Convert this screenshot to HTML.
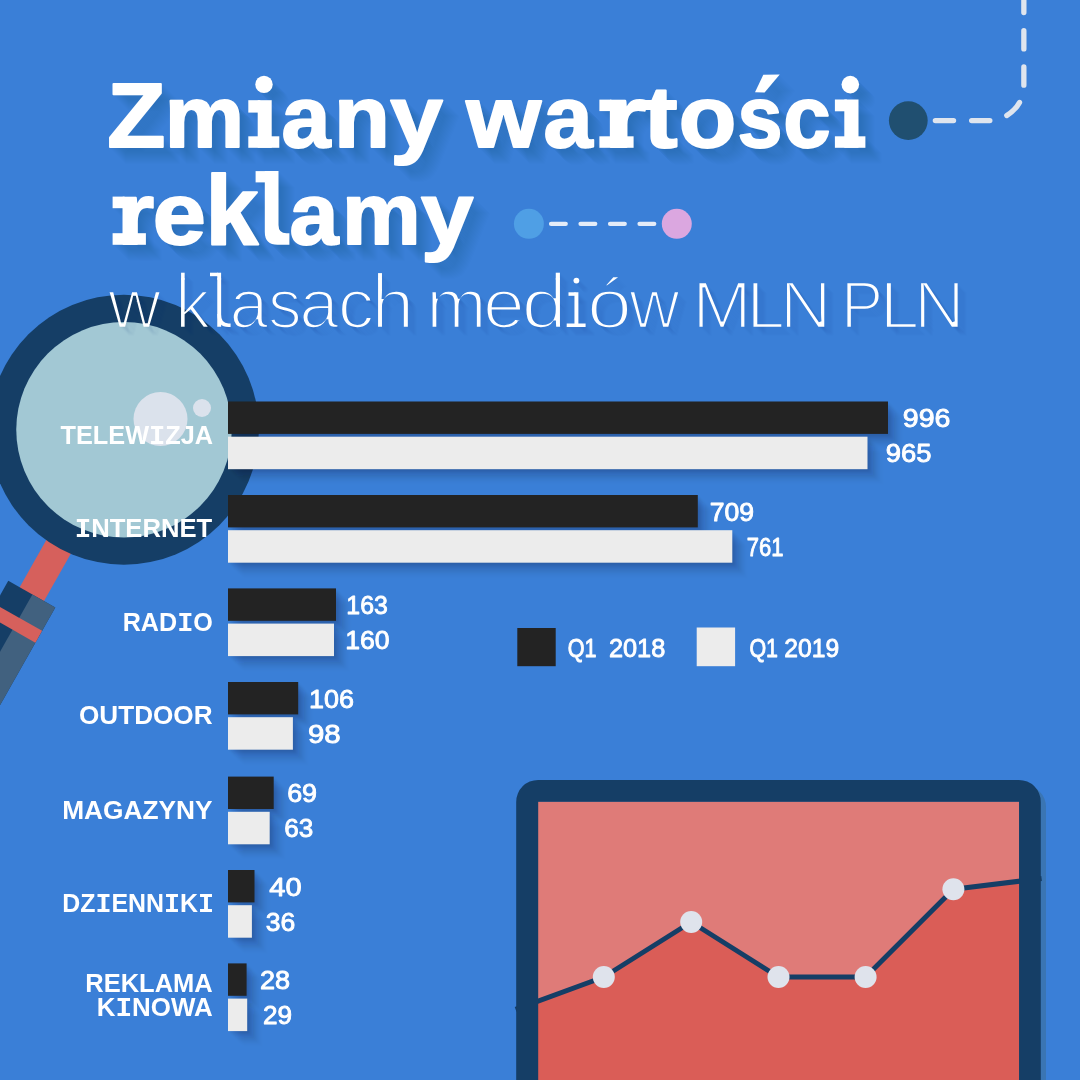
<!DOCTYPE html>
<html lang="pl">
<head>
<meta charset="utf-8">
<title>Zmiany wartości reklamy</title>
<style>
  html, body { margin: 0; padding: 0; width: 1080px; height: 1080px; overflow: hidden; background: #3a7fd7; }
  svg { display: block; font-family: "Liberation Sans", sans-serif; will-change: transform; }
  .lbl { font-weight: bold; font-size: 25.4px; fill: #ffffff; }
  .val { font-size: 26px; fill: #ffffff; stroke: #ffffff; stroke-width: 0.9px; stroke-linejoin: round; }
</style>
</head>
<body>
<svg width="1080" height="1080" viewBox="0 0 1080 1080">
  <defs>
    <filter id="barShadow" x="-10%" y="-30%" width="130%" height="190%">
      <feGaussianBlur in="SourceAlpha" stdDeviation="4"/>
      <feOffset dx="5" dy="7" result="b"/>
      <feComponentTransfer><feFuncA type="linear" slope="0.34"/></feComponentTransfer>
      <feMerge><feMergeNode/><feMergeNode in="SourceGraphic"/></feMerge>
    </filter>
    <filter id="soft" x="-5%" y="-5%" width="110%" height="110%"><feGaussianBlur stdDeviation="1.3"/></filter>
    <g id="barSil">
      <rect x="228" y="401.5" width="660.0" height="32.4"/>
      <rect x="228" y="436.7" width="639.5" height="32.5"/>
      <rect x="228" y="495.0" width="469.8" height="32.4"/>
      <rect x="228" y="530.2" width="504.3" height="32.5"/>
      <rect x="228" y="588.4" width="108.0" height="32.4"/>
      <rect x="228" y="623.6" width="106.0" height="32.5"/>
      <rect x="228" y="682.0" width="70.2" height="32.4"/>
      <rect x="228" y="717.2" width="64.9" height="32.5"/>
      <rect x="228" y="776.6" width="45.7" height="32.4"/>
      <rect x="228" y="811.8" width="41.7" height="32.5"/>
      <rect x="228" y="870.0" width="26.5" height="32.4"/>
      <rect x="228" y="905.2" width="23.9" height="32.5"/>
      <rect x="228" y="963.4" width="18.6" height="32.4"/>
      <rect x="228" y="998.6" width="19.2" height="32.5"/>
    </g>
    <g id="titleText" font-weight="bold" font-size="88" stroke-width="2" stroke-linejoin="round">
      <text x="107.29" y="146.8" textLength="58.13" lengthAdjust="spacingAndGlyphs" font-size="90">Z</text>
      <text x="164.86" y="146.8" textLength="79.42" lengthAdjust="spacingAndGlyphs">m</text>
      <text x="281.5" y="146.8" textLength="48.95" lengthAdjust="spacingAndGlyphs">a</text>
      <text x="334.02" y="146.8" textLength="55.92" lengthAdjust="spacingAndGlyphs">n</text>
      <text x="390.19" y="146.8" textLength="52.59" lengthAdjust="spacingAndGlyphs">y</text>
      <text x="466.17" y="146.8" textLength="74.78" lengthAdjust="spacingAndGlyphs">w</text>
      <text x="543.49" y="146.8" textLength="49.16" lengthAdjust="spacingAndGlyphs">a</text>
      <text x="603.55" y="146.8" textLength="42.61" lengthAdjust="spacingAndGlyphs">r</text>
      <text x="643.64" y="146.8" textLength="34.1" lengthAdjust="spacingAndGlyphs">t</text>
      <text x="678.65" y="146.8" textLength="57.62" lengthAdjust="spacingAndGlyphs">o</text>
      <text x="737.61" y="146.8" textLength="44.99" lengthAdjust="spacingAndGlyphs">s</text>
      <text x="783.21" y="146.8" textLength="47.41" lengthAdjust="spacingAndGlyphs">c</text>
      <text x="116.98" y="243.8" textLength="37.08" lengthAdjust="spacingAndGlyphs">r</text>
      <text x="152.8" y="243.8" textLength="53.1" lengthAdjust="spacingAndGlyphs">e</text>
      <text x="205.57" y="243.8" textLength="52.75" lengthAdjust="spacingAndGlyphs" font-size="98">k</text>
      <text x="289.5" y="243.8" textLength="48.95" lengthAdjust="spacingAndGlyphs">a</text>
      <text x="342.02" y="243.8" textLength="78.72" lengthAdjust="spacingAndGlyphs">m</text>
      <text x="420.9" y="243.8" textLength="52.39" lengthAdjust="spacingAndGlyphs">y</text>
      <g stroke="none">
        <!-- i (Zmiany) -->
        <rect x="257.7" y="100.2" width="14" height="47.6"/>
        <rect x="248.3" y="136.3" width="31" height="11.5"/>
        <rect x="248.3" y="100.2" width="12" height="12.4"/>
        <circle cx="264" cy="84.4" r="8.7"/>
        <!-- i (wartosci) -->
        <rect x="844.3" y="99.5" width="14.2" height="48.3"/>
        <rect x="834.9" y="136.3" width="30.5" height="11.5"/>
        <rect x="834.9" y="99.5" width="12" height="11.8"/>
        <circle cx="850.3" cy="84.6" r="8.8"/>
        <!-- l (reklamy) -->
        <path d="M264.8 171.1 H278.5 V225 Q278.5 233.3 286.5 233.3 H289.4 V244.8 H277.5 Q264.8 244.8 264.8 232 Z"/>
        <rect x="255.6" y="171.1" width="12" height="11.3"/>
        <!-- acute accent of s -->
        <polygon points="763.3,74.8 779.75,74.4 764.6,92.5 755,92.3"/>
        <!-- r slabs -->
        <rect x="112.6" y="233.2" width="33.3" height="11.6"/>
        <rect x="112.6" y="196.6" width="12" height="11.6"/>
        <rect x="599.4" y="136.3" width="34.2" height="11.5"/>
        <rect x="599.4" y="99.6" width="12" height="11.5"/>
      </g>
    </g>
    <mask id="thinMask" maskUnits="userSpaceOnUse" x="0" y="240" width="1080" height="120">
      <g font-size="70" fill="#fff" stroke="#000" stroke-width="2.6">
        <text x="108.1" y="328.3" textLength="53.0" lengthAdjust="spacingAndGlyphs">w</text>
        <text x="175.03" y="328.3" textLength="35.17" lengthAdjust="spacingAndGlyphs">k</text>
        <text x="210.75" y="328.3" textLength="16.86" lengthAdjust="spacingAndGlyphs">l</text>
        <text x="229.61" y="328.3" textLength="38.83" lengthAdjust="spacingAndGlyphs">a</text>
        <text x="267.88" y="328.3" textLength="33.62" lengthAdjust="spacingAndGlyphs">s</text>
        <text x="299.36" y="328.3" textLength="39.48" lengthAdjust="spacingAndGlyphs">a</text>
        <text x="337.78" y="328.3" textLength="36.45" lengthAdjust="spacingAndGlyphs">c</text>
        <text x="371.25" y="328.3" textLength="43.06" lengthAdjust="spacingAndGlyphs">h</text>
        <text x="426.29" y="328.3" textLength="60.34" lengthAdjust="spacingAndGlyphs">m</text>
        <text x="482.98" y="328.3" textLength="41.73" lengthAdjust="spacingAndGlyphs">e</text>
        <text x="521.6" y="328.3" textLength="45.49" lengthAdjust="spacingAndGlyphs">d</text>
        <text x="565.68" y="328.3" textLength="21.4" lengthAdjust="spacingAndGlyphs">ı</text>
        <text x="586.94" y="328.3" textLength="44.96" lengthAdjust="spacingAndGlyphs">ó</text>
        <text x="629.3" y="328.3" textLength="50.41" lengthAdjust="spacingAndGlyphs">w</text>
        <text x="692.25" y="327.5" textLength="59.37" lengthAdjust="spacingAndGlyphs" font-size="67">M</text>
        <text x="746.63" y="327.5" textLength="38.4" lengthAdjust="spacingAndGlyphs" font-size="67">L</text>
        <text x="779.72" y="327.5" textLength="51.75" lengthAdjust="spacingAndGlyphs" font-size="67">N</text>
        <text x="841.02" y="327.5" textLength="42.14" lengthAdjust="spacingAndGlyphs" font-size="67">P</text>
        <text x="879.76" y="327.5" textLength="39.54" lengthAdjust="spacingAndGlyphs" font-size="67">L</text>
        <text x="914.04" y="327.5" textLength="50.71" lengthAdjust="spacingAndGlyphs" font-size="67">N</text>
      </g>
      <g fill="#fff">
        <circle cx="576.4" cy="280.6" r="2.9"/>
        <rect x="566.7" y="323.5" width="18.9" height="3.5"/>
        <rect x="568.5" y="292.3" width="7" height="3.5"/>
        <rect x="210" y="272.7" width="8" height="3.5"/>
        <path d="M219.15 314 Q219.15 325.2 228.5 325.2 H230.6" fill="none" stroke="#fff" stroke-width="3.6"/>
        <rect x="181.08" y="272.7" width="3.57" height="7"/>
        <rect x="217.25" y="272.7" width="3.85" height="7"/>
        <rect x="378.06" y="273.1" width="3.91" height="6.6"/>
        <rect x="555.76" y="272.7" width="4.17" height="7"/>
      </g>
    </mask>
    <rect id="subRect" x="0" y="240" width="1080" height="120" mask="url(#thinMask)"/>
  </defs>

  <!-- background -->
  <rect width="1080" height="1080" fill="#3a7fd7"/>

  <!-- magnifier -->
  <g id="magnifier">
    <g transform="translate(121.5 429.5) rotate(29.5)">
      <rect x="-11" y="100" width="28" height="100" fill="#d6605c"/>
      <rect x="-24" y="187.5" width="54" height="260" fill="#153e66"/>
      <rect x="3.7" y="187.5" width="26.3" height="260" fill="#41617f"/>
      <rect x="-24" y="214.3" width="54" height="13.6" fill="#d6605c"/>
    </g>
    <circle cx="123.9" cy="429.7" r="135" fill="#153e66"/>
    <circle cx="124" cy="429.8" r="107.75" fill="#a2c8d4"/>
    <circle cx="160.5" cy="419" r="27" fill="#dbe2ec"/>
    <circle cx="202" cy="408" r="9" fill="#dbe2ec"/>
  </g>

  <!-- title shadow + title -->
  <g id="titleShadow" fill="#0a2a6a" stroke="#0a2a6a">
    <use href="#titleText" transform="translate(1 1)" opacity="0.0065"/>
    <use href="#titleText" transform="translate(2 2)" opacity="0.0065"/>
    <use href="#titleText" transform="translate(3 3)" opacity="0.0065"/>
    <use href="#titleText" transform="translate(4 4)" opacity="0.0065"/>
    <use href="#titleText" transform="translate(5 5)" opacity="0.0065"/>
    <use href="#titleText" transform="translate(6 6)" opacity="0.0065"/>
    <use href="#titleText" transform="translate(7 7)" opacity="0.0065"/>
    <use href="#titleText" transform="translate(8 8)" opacity="0.0065"/>
    <use href="#titleText" transform="translate(9 9)" opacity="0.0065"/>
    <use href="#titleText" transform="translate(10 10)" opacity="0.0065"/>
    <use href="#titleText" transform="translate(11 11)" opacity="0.0065"/>
    <use href="#titleText" transform="translate(12 12)" opacity="0.0065"/>
    <use href="#titleText" transform="translate(13 13)" opacity="0.0065"/>
    <use href="#titleText" transform="translate(14 14)" opacity="0.0065"/>
    <use href="#titleText" transform="translate(15 15)" opacity="0.0065"/>
    <use href="#titleText" transform="translate(16 16)" opacity="0.0065"/>
  </g>
  <use href="#titleText" fill="#ffffff" stroke="#ffffff"/>

  <!-- subtitle (thinned via mask) -->
  <g fill="#0a2a6a">
    <use href="#subRect" transform="translate(1 1)" opacity="0.01"/>
    <use href="#subRect" transform="translate(2 2)" opacity="0.01"/>
    <use href="#subRect" transform="translate(3 3)" opacity="0.01"/>
    <use href="#subRect" transform="translate(4 4)" opacity="0.01"/>
    <use href="#subRect" transform="translate(5 5)" opacity="0.01"/>
    <use href="#subRect" transform="translate(6 6)" opacity="0.01"/>
    <use href="#subRect" transform="translate(7 7)" opacity="0.01"/>
    <use href="#subRect" transform="translate(8 8)" opacity="0.01"/>
    <use href="#subRect" transform="translate(9 9)" opacity="0.01"/>
  </g>
  <use href="#subRect" fill="#ffffff"/>

  <!-- decorations -->
  <circle cx="908.3" cy="120.6" r="19.4" fill="#204f70"/>
  <g fill="none" stroke="#dfe5ee" stroke-width="5.3" stroke-linecap="round">
    <path d="M935.35 120.6 H995" stroke-dasharray="18.2 18.1"/>
    <path d="M1006.8 115.5 Q1015.6 109.7 1019.5 102.4"/>
    <path d="M1023.85 85.2 V-40" stroke-dasharray="18.2 18.1"/>
  </g>
  <circle cx="528.9" cy="223.8" r="15" fill="#4f9fe5"/>
  <circle cx="676.8" cy="223.8" r="15" fill="#dba7e0"/>
  <path d="M551.1 223.85 H660" fill="none" stroke="#e4ecf8" stroke-width="4.4" stroke-linecap="round" stroke-dasharray="14.6 14.9"/>

  <!-- bars -->
  <g id="barShadows" fill="#06183f" filter="url(#soft)">
      <use href="#barSil" transform="translate(1 1)" opacity="0.0293"/>
      <use href="#barSil" transform="translate(2 2)" opacity="0.0276"/>
      <use href="#barSil" transform="translate(3 3)" opacity="0.0258"/>
      <use href="#barSil" transform="translate(4 4)" opacity="0.0241"/>
      <use href="#barSil" transform="translate(5 5)" opacity="0.0224"/>
      <use href="#barSil" transform="translate(6 6)" opacity="0.0207"/>
      <use href="#barSil" transform="translate(7 7)" opacity="0.0189"/>
      <use href="#barSil" transform="translate(8 8)" opacity="0.0172"/>
      <use href="#barSil" transform="translate(9 9)" opacity="0.0155"/>
      <use href="#barSil" transform="translate(10 10)" opacity="0.0138"/>
      <use href="#barSil" transform="translate(11 11)" opacity="0.0121"/>
      <use href="#barSil" transform="translate(12 12)" opacity="0.0103"/>
      <use href="#barSil" transform="translate(13 13)" opacity="0.0086"/>
      <use href="#barSil" transform="translate(14 14)" opacity="0.0069"/>
      <use href="#barSil" transform="translate(15 15)" opacity="0.0052"/>
      <use href="#barSil" transform="translate(16 16)" opacity="0.0034"/>
      <use href="#barSil" transform="translate(17 17)" opacity="0.0017"/>
  </g>
  <g id="bars">
      <rect x="228" y="401.5" width="660.0" height="32.4" fill="#232323"/>
      <rect x="228" y="436.7" width="639.5" height="32.5" fill="#ececec"/>
      <rect x="228" y="495.0" width="469.8" height="32.4" fill="#232323"/>
      <rect x="228" y="530.2" width="504.3" height="32.5" fill="#ececec"/>
      <rect x="228" y="588.4" width="108.0" height="32.4" fill="#232323"/>
      <rect x="228" y="623.6" width="106.0" height="32.5" fill="#ececec"/>
      <rect x="228" y="682.0" width="70.2" height="32.4" fill="#232323"/>
      <rect x="228" y="717.2" width="64.9" height="32.5" fill="#ececec"/>
      <rect x="228" y="776.6" width="45.7" height="32.4" fill="#232323"/>
      <rect x="228" y="811.8" width="41.7" height="32.5" fill="#ececec"/>
      <rect x="228" y="870.0" width="26.5" height="32.4" fill="#232323"/>
      <rect x="228" y="905.2" width="23.9" height="32.5" fill="#ececec"/>
      <rect x="228" y="963.4" width="18.6" height="32.4" fill="#232323"/>
      <rect x="228" y="998.6" width="19.2" height="32.5" fill="#ececec"/>
  </g>

  <!-- category labels -->
  <g id="labels" class="lbl">
    <text x="60.55" y="443.7" textLength="152.6" lengthAdjust="spacingAndGlyphs">TELEW<tspan font-family="Liberation Mono" font-size="27.2">I</tspan>ZJA</text>
    <text x="74.68" y="537" textLength="137.56" lengthAdjust="spacingAndGlyphs"><tspan font-family="Liberation Mono" font-size="27.2">I</tspan>NTERNET</text>
    <text x="122.67" y="630.8" textLength="90.22" lengthAdjust="spacingAndGlyphs">RAD<tspan font-family="Liberation Mono" font-size="27.2">I</tspan>O</text>
    <text x="78.97" y="724.2" textLength="133.58" lengthAdjust="spacingAndGlyphs">OUTDOOR</text>
    <text x="62.19" y="818.7" textLength="150.38" lengthAdjust="spacingAndGlyphs">MAGAZYNY</text>
    <text x="62.28" y="912.2" textLength="151.72" lengthAdjust="spacingAndGlyphs">DZ<tspan font-family="Liberation Mono" font-size="27.2">I</tspan>ENN<tspan font-family="Liberation Mono" font-size="27.2">I</tspan>K<tspan font-family="Liberation Mono" font-size="27.2">I</tspan></text>
    <text x="85.24" y="991.5" textLength="127.46" lengthAdjust="spacingAndGlyphs">REKLAMA</text>
    <text x="96.71" y="1015.6" textLength="115.97" lengthAdjust="spacingAndGlyphs">K<tspan font-family="Liberation Mono" font-size="27.2">I</tspan>NOWA</text>
  </g>

  <!-- values -->
  <g id="values" class="val">
    <text x="902.78" y="427.1" textLength="47.62" lengthAdjust="spacingAndGlyphs">996</text>
    <text x="885.73" y="462.3" textLength="45.72" lengthAdjust="spacingAndGlyphs">965</text>
    <text x="709.77" y="520.6" textLength="44.34" lengthAdjust="spacingAndGlyphs">709</text>
    <text x="746.79" y="555.8" textLength="36.72" lengthAdjust="spacingAndGlyphs">761</text>
    <text x="346.34" y="614.0" textLength="41.5" lengthAdjust="spacingAndGlyphs">163</text>
    <text x="345.31" y="649.2" textLength="44.31" lengthAdjust="spacingAndGlyphs">160</text>
    <text x="309.08" y="707.6" textLength="44.95" lengthAdjust="spacingAndGlyphs">106</text>
    <text x="307.93" y="742.8" textLength="32.74" lengthAdjust="spacingAndGlyphs">98</text>
    <text x="287.16" y="802.2" textLength="29.9" lengthAdjust="spacingAndGlyphs">69</text>
    <text x="284.2" y="837.4" textLength="29.03" lengthAdjust="spacingAndGlyphs">63</text>
    <text x="269.39" y="895.6" textLength="32.27" lengthAdjust="spacingAndGlyphs">40</text>
    <text x="265.73" y="930.8" textLength="29.52" lengthAdjust="spacingAndGlyphs">36</text>
    <text x="259.95" y="989.0" textLength="30.12" lengthAdjust="spacingAndGlyphs">28</text>
    <text x="263.0" y="1024.2" textLength="29.03" lengthAdjust="spacingAndGlyphs">29</text>
  </g>

  <!-- legend -->
  <g id="legend" class="val">
    <rect x="517.3" y="628" width="38.4" height="38.2" fill="#232323" stroke="none"/>
    <text x="567.71" y="657.2" textLength="28.83" lengthAdjust="spacingAndGlyphs">Q1</text>
    <text x="608.93" y="657.2" textLength="56.38" lengthAdjust="spacingAndGlyphs">2018</text>
    <rect x="696.7" y="627.5" width="38.4" height="38.7" fill="#ececec" stroke="none"/>
    <text x="749.42" y="657.2" textLength="28.61" lengthAdjust="spacingAndGlyphs">Q1</text>
    <text x="784.26" y="657.2" textLength="54.86" lengthAdjust="spacingAndGlyphs">2019</text>
  </g>

  <!-- chart panel -->
  <g id="panel">
    <rect x="521.5" y="785" width="524.5" height="320" rx="22" fill="#3a75b3"/>
    <rect x="538" y="801.5" width="481.4" height="290" fill="#df7b78"/>
    <path d="M530 1004 L603.8 977 L691.2 922 L778.5 977 L865.6 977 L953.4 889.3 L1030 879.9 V1090 H530 Z" fill="#da5d57"/>
    <path d="M515.6 1009.3 L603.8 977 L691.2 922 L778.5 977 L865.6 977 L953.4 889.3 L1041.6 878.5" fill="none" stroke="#153e66" stroke-width="5" stroke-linejoin="round"/>
    <path fill-rule="evenodd" fill="#153e66" d="M538.2 779.9 H1018.8 A22 22 0 0 1 1040.8 801.9 V1100 H516.2 V801.9 A22 22 0 0 1 538.2 779.9 Z M538.2 801.8 V1100 H1019.05 V801.8 Z"/>
    <g fill="#dfe3ec">
      <circle cx="603.8" cy="977" r="11"/>
      <circle cx="691.2" cy="922" r="11"/>
      <circle cx="778.5" cy="977" r="11"/>
      <circle cx="865.6" cy="977" r="11"/>
      <circle cx="953.4" cy="889.3" r="11"/>
    </g>
  </g>
</svg>
</body>
</html>
